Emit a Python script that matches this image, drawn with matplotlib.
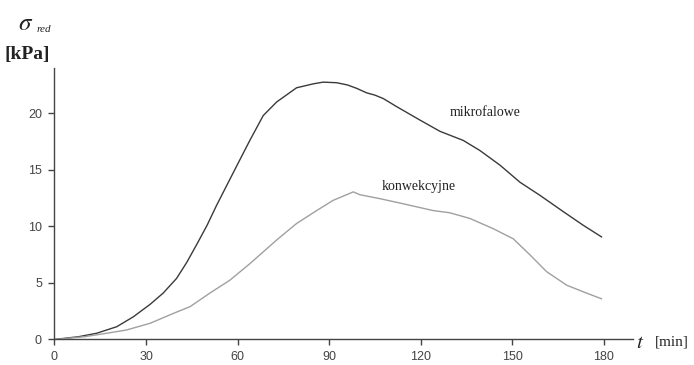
import matplotlib
matplotlib.use("Agg")
import matplotlib.pyplot as plt

# mikrofalowe (dark curve)
t_mikro = [0, 8, 13.8, 20.4, 25.8, 31.3, 35.6, 40, 43.3, 46.6, 50, 53, 56.4, 60, 64, 68.4,
           72.8, 79.3, 84.8, 88, 92.4, 96, 99, 102.3, 105, 107.7, 112, 119.7, 126.3, 133.9,
           139.4, 146, 152.5, 159, 166.7, 173.2, 179.2]
v_mikro = [0, 0.25, 0.55, 1.13, 2.0, 3.1, 4.1, 5.4, 6.8, 8.4, 10.1, 11.8, 13.6, 15.5, 17.6,
           19.8, 21.0, 22.25, 22.6, 22.75, 22.7, 22.5, 22.2, 21.8, 21.6, 21.3, 20.6, 19.4,
           18.4, 17.6, 16.7, 15.4, 13.9, 12.75, 11.3, 10.1, 9.07]

# konwekcyjne (light curve)
t_konw = [0, 10, 17.1, 23.6, 31.3, 38.9, 44.4, 50.9, 57.5, 64, 72.8, 79.3, 85.9, 91.3,
          97.9, 100, 106.6, 114.2, 124, 129.5, 136.1, 143.7, 150.3, 155.7, 161.2, 167.8,
          174.3, 179.2]
v_konw = [0, 0.25, 0.55, 0.84, 1.43, 2.3, 2.9, 4.1, 5.25, 6.7, 8.8, 10.25, 11.4, 12.3,
          13.05, 12.8, 12.45, 12.0, 11.4, 11.2, 10.7, 9.8, 8.9, 7.5, 6.0, 4.8, 4.1, 3.6]

x_ticks = [0, 30, 60, 90, 120, 150, 180]
y_ticks = [0, 5, 10, 15, 20]

plt.rcParams["mathtext.fontset"] = "stix"

fig = plt.figure(figsize=(6.94, 3.65), dpi=100)
ax = fig.add_axes([0.0785, 0.0699, 0.8335, 0.7438])

ax.plot(t_mikro, v_mikro, color="#3a3a3a", lw=1.0)
ax.plot(t_konw, v_konw, color="#a0a0a0", lw=1.0)

ax.set_xlim(0, 189.5)
ax.set_ylim(0, 24)
ax.set_xticks(x_ticks)
ax.set_yticks(y_ticks)

for s in ["top", "right"]:
    ax.spines[s].set_visible(False)
for s in ["left", "bottom"]:
    ax.spines[s].set_color("#444444")
    ax.spines[s].set_linewidth(1.0)

ax.tick_params(axis="both", direction="out", length=4, width=1.0, color="#444444",
               labelsize=9, labelcolor="#444444")
ax.tick_params(axis="x", pad=4)
ax.tick_params(axis="y", pad=5)
for lbl in ax.get_xticklabels() + ax.get_yticklabels():
    lbl.set_family("Liberation Sans")

serif = "Liberation Serif"
ax.text(141, 20.1, "mikrofalowe", family=serif, fontsize=10, ha="center", va="center",
        color="#222222")
ax.text(119.4, 13.5, "konwekcyjne", family=serif, fontsize=10, ha="center", va="center",
        color="#222222")

# axis labels placed as in the original drawing
fig.text(18 / 694, 1 - 23 / 365, r"$\sigma$", fontsize=18, ha="left",
         va="center", color="#222222")
fig.text(37 / 694, 1 - 30 / 365, "red", family=serif, style="italic", fontsize=8,
         ha="left", va="center", color="#222222")
fig.text(4 / 694, 1 - 55 / 365, "[kPa]", family=serif, fontsize=14, weight="bold",
         ha="left", va="center", color="#222222")
fig.text(636 / 694, 1 - 342 / 365, r"$t$", fontsize=15, ha="left",
         va="center", color="#222222")
fig.text(655 / 694, 1 - 342 / 365, "[min]", family=serif, fontsize=11, ha="left",
         va="center", color="#222222")

fig.savefig("out.png", dpi=100)
